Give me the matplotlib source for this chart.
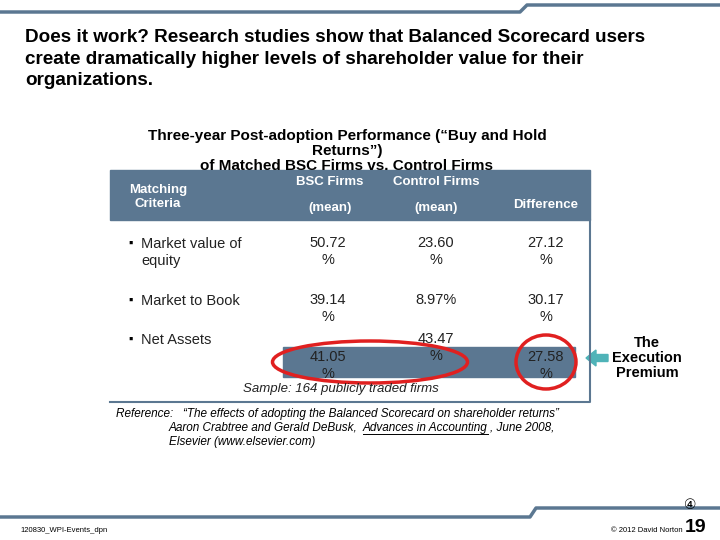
import matplotlib
matplotlib.use("Agg")
import matplotlib.pyplot as plt
from matplotlib.patches import Rectangle, Ellipse, FancyArrow

criteria = ["Market value of\nequity", "Market to Book", "Net Assets"]
bsc = ["50.72\n%", "39.14\n%", "41.05\n%"]
control = ["23.60\n%", "8.97%", "43.47\n%"]
diff = ["27.12\n%", "30.17\n%", "27.58\n%"]
headers = ["Matching\nCriteria", "BSC Firms\n\n(mean)", "Control Firms\n\n(mean)", "Difference"]

plt.rcParams['font.family'] = ['Liberation Sans', 'DejaVu Sans']
fig = plt.figure(figsize=(7.2, 5.4), dpi=100)
ax = fig.add_axes([0, 0, 1, 1])
ax.set_xlim(0, 720); ax.set_ylim(540, 0); ax.axis('off')
slate = '#5B7791'

ax.plot([0, 520, 527, 720], [12, 12, 5, 5], color=slate, lw=2.5)
ax.plot([0, 530, 536, 720], [517, 517, 508, 508], color=slate, lw=2.5)

ax.text(25, 29, "Does it work? Research studies show that Balanced Scorecard users\ncreate dramatically higher levels of shareholder value for their\norganizations.",
        fontsize=13.6, fontweight='bold', va='top', linespacing=1.35)

ax.add_patch(Rectangle((110, 170), 480, 50, color=slate))
ax.plot([590, 590, 110], [220, 402, 402], color=slate, lw=1.5)
ax.text(347, 129, "Three-year Post-adoption Performance (\u201cBuy and Hold\nReturns\u201d)\nof Matched BSC Firms vs. Control Firms",
        fontsize=11, fontweight='bold', ha='center', va='top', linespacing=1.1)
hx = [158, 330, 436, 546]
ax.text(hx[0], 197, headers[0], color='white', fontsize=9.5, fontweight='bold', ha='center', va='center')
for x, h in zip(hx[1:3], headers[1:3]):
    ax.text(x, 176, h, color='white', fontsize=9.5, fontweight='bold', ha='center', va='top', linespacing=1.1)
ax.text(hx[3], 205, headers[3], color='white', fontsize=9.5, fontweight='bold', ha='center', va='center')

ax.add_patch(Rectangle((283, 347), 292, 30, color=slate))
rows_y = [244, 301, 340]
val_y = [244, 301, 358]
for i, c in enumerate(criteria):
    ax.text(128, rows_y[i] - 6, "\u25aa", fontsize=9, va='top', ha='left')
    ax.text(141, rows_y[i] - 7, c, fontsize=10.5, va='top', ha='left', color='#222222', linespacing=1.3)
    ax.text(328, val_y[i] - 8, bsc[i], fontsize=10.5, ha='center', va='top', color='#222222', linespacing=1.3)
    cy = 332 if i == 2 else val_y[i] - 8
    ax.text(436, cy, control[i], fontsize=10.5, ha='center', va='top', color='#222222', linespacing=1.3)
    ax.text(546, val_y[i] - 8, diff[i], fontsize=10.5, ha='center', va='top', color='#222222', linespacing=1.3)

ax.add_patch(Ellipse((370, 362), 195, 42, fill=False, ec='#E02020', lw=2.5))
ax.add_patch(Ellipse((546, 362), 60, 54, fill=False, ec='#E02020', lw=2.5))
ax.add_patch(FancyArrow(608, 358, -22, 0, width=7, head_width=16, head_length=10, color='#4FB3B8', length_includes_head=True))
ax.text(647, 358, "The\nExecution\nPremium", fontsize=10.5, fontweight='bold', ha='center', va='center', linespacing=1.1)

ax.text(341, 389, "Sample: 164 publicly traded firms", fontsize=9.5, style='italic', ha='center', va='center', color='#222222')
ax.text(116, 414, "Reference:   \u201cThe effects of adopting the Balanced Scorecard on shareholder returns\u201d", fontsize=8.5, style='italic', va='center')

fig.canvas.draw()
r = fig.canvas.get_renderer()
inv = ax.transData.inverted()
x = 169
parts = ["Aaron Crabtree and Gerald DeBusk, ", "Advances in Accounting", ", June 2008,"]
for k, p in enumerate(parts):
    t = ax.text(x, 428, p, fontsize=8.5, style='italic', va='center')
    bb = t.get_window_extent(r)
    x0 = inv.transform((bb.x0, 0))[0]
    x1 = inv.transform((bb.x1, 0))[0]
    if k == 1:
        ax.plot([x0, x1], [434, 434], color='black', lw=0.7)
    x = x1 + 2
ax.text(169, 442, "Elsevier (www.elsevier.com)", fontsize=8.5, style='italic', va='center')

ax.text(690, 505, "\u2463", fontsize=10, ha='center', va='center')
ax.text(20, 530, "120830_WPI-Events_dpn", fontsize=5.5, va='center')
ax.text(683, 530, "\u00a9 2012 David Norton", fontsize=5.5, va='center', ha='right')
ax.text(685, 527, "19", fontsize=14, fontweight='bold', va='center', ha='left')
fig.savefig("out.png", dpi=100)
